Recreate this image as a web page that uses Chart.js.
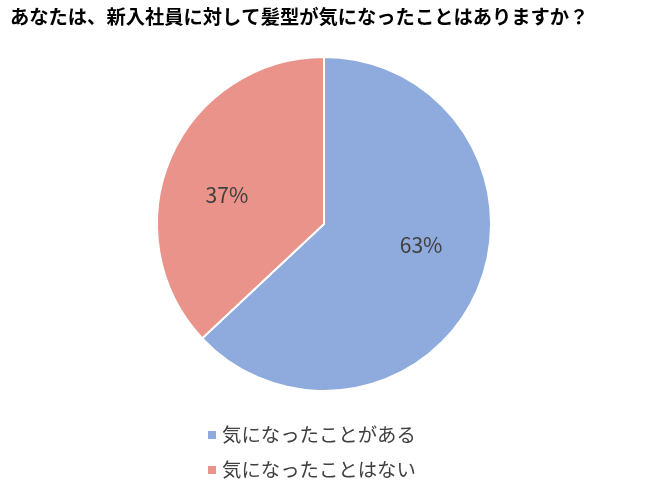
<!DOCTYPE html>
<html lang="ja">
<head>
<meta charset="UTF-8">
<title>髪型アンケート</title>
<script src="https://cdn.jsdelivr.net/npm/chart.js"></script>
<style>
  html, body { margin: 0; padding: 0; background: #fff; }
  #wrap { width: 650px; height: 497px; }
</style>
</head>
<body>
<div id="wrap"><canvas id="pieChart"></canvas></div>
<script>
const titleText = 'あなたは、新入社員に対して髪型が気になったことはありますか？';
const labels = ['気になったことがある', '気になったことはない'];
const values = [63, 37];
const colors = ['#8faadc', '#ea938b'];
const FONT = '"Noto Sans CJK JP", "Noto Sans", sans-serif';

// percent labels inside the slices
const sliceLabels = {
  id: 'sliceLabels',
  afterDatasetsDraw(chart) {
    const ctx = chart.ctx;
    const meta = chart.getDatasetMeta(0);
    const total = values.reduce((a, b) => a + b, 0);
    ctx.save();
    ctx.font = '21px ' + FONT;
    ctx.fillStyle = '#404040';
    ctx.textAlign = 'center';
    ctx.textBaseline = 'middle';
    meta.data.forEach((arc, i) => {
      const p = arc.getProps(['x', 'y', 'startAngle', 'endAngle', 'outerRadius'], true);
      const mid = (p.startAngle + p.endAngle) / 2 - 9 * Math.PI / 180;
      const r = p.outerRadius * 0.6;
      const pct = Math.round(values[i] / total * 100) + '%';
      ctx.fillText(pct, p.x + Math.cos(mid) * r, p.y + Math.sin(mid) * r - 4);
    });
    ctx.restore();
  }
};

// legend stacked in rows under the pie
const stackedLegend = {
  id: 'stackedLegend',
  afterDraw(chart) {
    const ctx = chart.ctx;
    const area = chart.chartArea;
    const cx = (area.left + area.right) / 2;
    ctx.save();
    ctx.font = '19.4px ' + FONT;
    ctx.textBaseline = 'middle';
    labels.forEach((txt, i) => {
      const y = area.bottom + 43 + i * 35;
      const x = cx - 116;
      ctx.fillStyle = colors[i];
      ctx.fillRect(x, y - 4, 8, 8);
      ctx.fillStyle = '#404040';
      ctx.fillText(txt, x + 14, y);
    });
    ctx.restore();
  }
};

new Chart(document.getElementById('pieChart'), {
  type: 'pie',
  data: {
    labels: labels,
    datasets: [{
      data: values,
      backgroundColor: colors,
      borderColor: '#ffffff',
      borderWidth: 2
    }]
  },
  options: {
    responsive: true,
    maintainAspectRatio: false,
    animation: false,
    layout: { padding: { left: 10, right: 12, top: 0, bottom: 105 } },
    plugins: {
      legend: { display: false },
      tooltip: { enabled: false },
      title: {
        display: true,
        text: titleText,
        align: 'start',
        color: '#000000',
        font: { family: FONT, size: 19.3, weight: 'bold' },
        padding: { top: 5, bottom: 27.8 }
      }
    }
  },
  plugins: [sliceLabels, stackedLegend]
});
</script>
</body>
</html>
